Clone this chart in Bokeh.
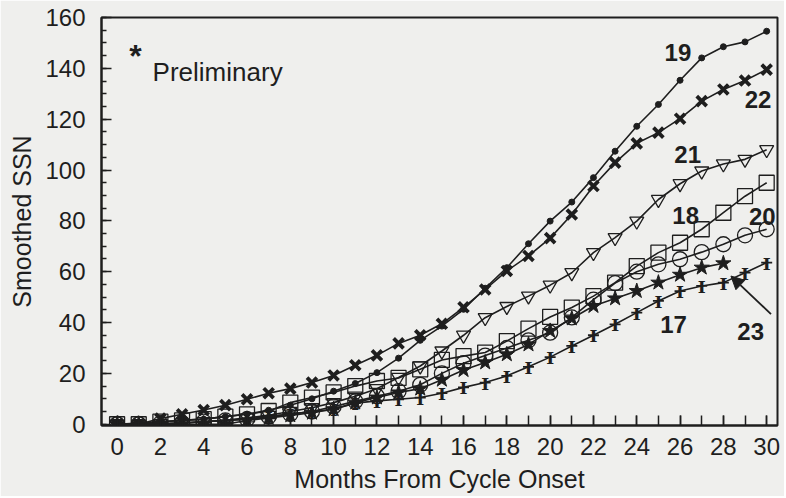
from bokeh.plotting import figure
from bokeh.models import FixedTicker, Label, Arrow, NormalHead
from bokeh.core.properties import value
from bokeh.embed import file_html
from bokeh.resources import INLINE

months = list(range(0, 31))
months23 = list(range(0, 29))

ssn19 = [0, 0.5, 1, 1.5, 2, 3, 4, 5.5, 7.5, 10, 13, 16, 20.3, 26, 33, 38.6, 45.2, 53.5, 61.6, 71,
         79.9, 87.4, 97, 107.4, 117.2, 125.8, 135.3, 144.1, 148.5, 150.4, 154.6]
ssn22 = [0, 0, 2.2, 3.9, 5.6, 7.5, 9.8, 12.2, 14, 16.4, 19.2, 23.2, 27.1, 31.8, 35, 39.5, 46, 53,
         60.3, 66.2, 73.2, 82.5, 93.7, 102.9, 110.5, 114.7, 120.2, 127.1, 131.7, 135.2, 139.5]
ssn21 = [0, 0, 0.2, 0.5, 1, 1.5, 2.5, 3.5, 5, 6.5, 8.5, 11, 14, 18.4, 22.9, 28.8, 35, 41.9, 46.3,
         50.4, 54.7, 59.6, 67.5, 73.4, 79.9, 88.4, 94.6, 99.6, 102.4, 104.2, 108]
ssn18 = [0, 0, 1, 1.5, 2, 3, 3.9, 5.2, 8.5, 10.5, 12.5, 15, 17, 18.2, 21.6, 25.3, 26.8, 28.2,
         32.7, 37.6, 42.2, 45.9, 50.4, 55.7, 62.2, 67.5, 71.4, 76.7, 83.2, 89.7, 95]
ssn20 = [0, 0, 0.3, 0.5, 1, 1.5, 2, 3, 4, 5, 7, 9, 11, 13, 15.5, 20, 24, 27, 30, 33, 36, 42, 49,
         55.5, 60, 62.9, 64.9, 67.7, 70.8, 74.3, 76.7]
ssn23 = [0, 0, 0, 0, 0, 0, 1.5, 2.5, 3.5, 4.5, 5.9, 8.5, 10.5, 12.5, 14, 17.5, 21.3, 24.3, 27.5,
         31.4, 36.7, 41.6, 46.5, 49.5, 52.4, 55.7, 58.8, 61.6, 63.3]
ssn17 = [0, 0, 0, 0.5, 1, 1.5, 2, 3, 4, 5, 5.9, 8.3, 9.2, 9.8, 10.5, 12.2, 14.5, 16.4, 19, 22.6,
         26.4, 30.8, 35, 39.3, 43.9, 48.5, 52.4, 54.4, 55.7, 59.6, 63.6]

x_ticks = list(range(0, 31, 2))
x_minor = list(range(0, 31))
y_ticks = list(range(0, 161, 20))
y_minor = list(range(0, 161, 5))

BG = "#efefed"
INK = "#1e1e1e"
FONT = "Liberation Sans"

p = figure(width=784, height=496, x_range=(-0.72, 30.5), y_range=(-0.5, 160),
           output_backend="svg", toolbar_location=None,
           min_border_left=101, min_border_right=7, min_border_top=17, min_border_bottom=71)
p.background_fill_color = BG
p.border_fill_color = BG
p.outline_line_color = INK
p.outline_line_width = 2
p.xgrid.visible = False
p.ygrid.visible = False

p.xaxis.ticker = FixedTicker(ticks=x_ticks, minor_ticks=x_minor)
p.yaxis.ticker = FixedTicker(ticks=y_ticks, minor_ticks=y_minor)
for ax in (p.xaxis[0], p.yaxis[0]):
    ax.axis_line_color = INK
    ax.axis_line_width = 2
    ax.major_tick_line_color = INK
    ax.minor_tick_line_color = INK
    ax.major_tick_line_width = 1.5
    ax.minor_tick_line_width = 1.5
    ax.major_tick_out = 0
    ax.minor_tick_out = 0
    ax.major_label_text_font = FONT
    ax.major_label_text_font_size = "24px"
    ax.major_label_text_color = INK
    ax.axis_label_text_font = FONT
    ax.axis_label_text_font_size = "25px"
    ax.axis_label_text_font_style = "normal"
    ax.axis_label_text_color = INK
p.xaxis.major_tick_in = 10
p.xaxis.minor_tick_in = 10
p.yaxis.major_tick_in = 10
p.yaxis.minor_tick_in = 5
p.xaxis.major_label_standoff = 12
p.yaxis.major_label_standoff = 16
p.xaxis.axis_label = "Months From Cycle Onset"
p.yaxis.axis_label = "Smoothed SSN"
p.xaxis.axis_label_standoff = 7
p.yaxis.axis_label_standoff = 6

LW = 1.6
# cycle 19: dots
p.line(months, ssn19, line_color=INK, line_width=LW)
p.scatter(months, ssn19, marker="circle", size=6, fill_color=INK, line_color=INK)
# cycle 22: bold x
p.line(months, ssn22, line_color=INK, line_width=LW)
p.scatter(months, ssn22, marker="x", size=14, line_color=INK, line_width=3.8)
# cycle 21: inverted triangles
p.line(months, ssn21, line_color=INK, line_width=LW)
p.scatter(months, ssn21, marker="inverted_triangle", size=14, fill_alpha=0,
          line_color=INK, line_width=1.3)
# cycle 18: squares
p.line(months, ssn18, line_color=INK, line_width=LW)
p.scatter(months, ssn18, marker="square", size=15, fill_alpha=0, line_color=INK, line_width=1.3)
# cycle 20: circles
p.line(months, ssn20, line_color=INK, line_width=LW)
p.scatter(months, ssn20, marker="circle", size=15, fill_alpha=0, line_color=INK, line_width=1.3)
# cycle 23: stars
p.line(months23, ssn23, line_color=INK, line_width=LW)
p.scatter(months23, ssn23, marker="star", size=16, fill_color=INK, line_color=INK)
# cycle 17: double-barred cross
p.line(months, ssn17, line_color=INK, line_width=LW)
p.scatter(months, ssn17, marker="dash", size=11, line_color=INK, line_width=1.8)
p.text(months, ssn17, text=value("I"), text_font=value("DejaVu Serif"), text_font_size="17px",
       text_font_style="bold", text_align="center", text_baseline="middle", text_color=INK,
       y_offset=1)

# cycle labels (label text, x, y in data units)
cycle_labels = [("19", 25.9, 146.2), ("22", 29.6, 127.8), ("21", 26.35, 106.1),
                ("18", 26.26, 82.2), ("20", 29.8, 81.8), ("17", 25.7, 39.3), ("23", 29.26, 36.6)]
for t, lx, ly in cycle_labels:
    p.add_layout(Label(x=lx, y=ly, text=t, text_font=FONT, text_font_size="24px",
                       text_font_style="bold", text_color=INK, text_align="center",
                       text_baseline="middle"))

p.add_layout(Arrow(end=NormalHead(size=13, fill_color=INK, line_color=INK),
                   x_start=months23[-1] + 2.2, y_start=ssn23[-1] - 20,
                   x_end=months23[-1] + 0.35, y_end=ssn23[-1] - 5,
                   line_color=INK, line_width=1.8))

p.add_layout(Label(x=0.85, y=145, text="*", text_font=FONT, text_font_size="32px",
                   text_font_style="bold", text_color=INK, text_align="center",
                   text_baseline="middle"))
p.add_layout(Label(x=1.64, y=138.4, text="Preliminary", text_font=FONT, text_font_size="26px",
                   text_color=INK, text_align="left", text_baseline="middle"))

open("out.html", "w").write(file_html(p, INLINE))
